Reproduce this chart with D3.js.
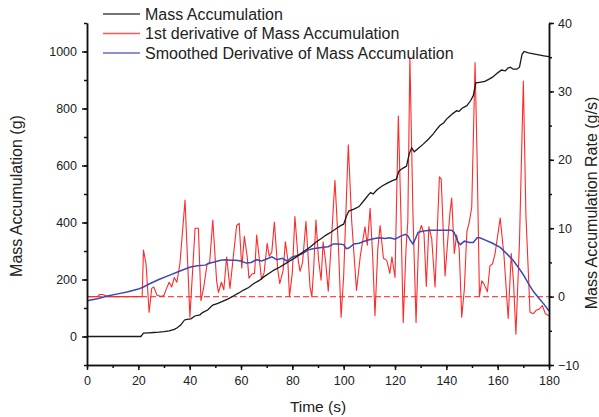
<!DOCTYPE html>
<html>
<head>
<meta charset="utf-8">
<script src="https://cdn.jsdelivr.net/npm/d3@7"></script>
<style>
  body { margin: 0; background: #fff; }
  svg text { font-family: "Liberation Sans", Arial, sans-serif; fill: #222; }
</style>
</head>
<body>
<div class="chart-container"></div>
<script>
//! CONSTS
const WIDTH = 599
const HEIGHT = 417
const MARGIN = { top: 23, right: 50, bottom: 52, left: 87 }

//! DATA
// mass accumulation, g  [time s, mass g]
const massTime = [0, 21, 22, 24, 26, 28, 30, 32, 34, 35, 36.5, 38, 39, 40.5, 42, 44, 45, 47, 49, 51, 53, 55, 57, 59,
  61, 63, 65, 67, 69, 71, 73, 75, 77, 79, 81, 83, 85, 87, 89, 91, 93, 95, 97, 99, 100, 101, 102, 104, 106, 108, 109.5,
  110.5, 111.5, 113, 115, 117, 119, 120.5, 121.5, 123, 124.5, 125.5, 126.5, 127.5, 129, 131, 133, 135, 136, 137.5, 139,
  140, 141, 142.5, 144, 145, 146, 148, 149.5, 150.5, 151.5, 153, 155, 156.5, 158, 160, 161.5, 163, 164, 165, 166, 167.5,
  168.5, 169.5, 170.3, 172, 175, 178, 180]
const massValue = [0, 0, 12, 13, 14, 15, 17, 20, 25, 30, 40, 58, 60, 62, 72, 76, 84, 93, 110, 116, 124, 132, 142, 152,
  163, 172, 186, 196, 210, 222, 234, 243, 254, 265, 276, 289, 302, 314, 330, 342, 355, 366, 378, 390, 394, 420, 440, 447,
  456, 478, 495, 505, 500, 515, 528, 538, 547, 552, 580, 590, 598, 640, 662, 648, 660, 675, 692, 712, 724, 740, 750,
  762, 770, 782, 792, 790, 800, 810, 828, 845, 890, 892, 895, 902, 910, 925, 935, 932, 942, 945, 938, 938,
  945, 990, 1000, 995, 990, 985, 982]

// 1st derivative, g/s  [time s, rate]
const rateTime = [0, 4, 5, 6, 8, 21.5, 22, 23, 24.2, 25.2, 26, 27.3, 29, 30, 31, 32, 33, 34, 35, 36.2, 38.2, 40.1, 42.1,
  43.4, 44.4, 45.5, 46.8, 47.8, 49, 50.5, 51.2, 52.4, 53.3, 54.4, 55.7, 58.3, 59.3, 60.3, 61.3, 62.4, 63.1, 64.3, 65.3,
  66.1, 67.4, 68, 69, 70.2, 71, 72, 73, 74.3, 75.1, 76.4, 77.3, 78.2, 78.9, 80, 81, 82.3, 83, 84, 85.3, 86.9, 87.6, 88.3,
  89.2, 90.2, 91.2, 92, 93, 94, 95.3, 96.6, 98, 99, 100, 101.8, 103.1, 105, 106.5, 108.3, 109.2, 110.3, 111.3, 112.2,
  113.3, 114.2, 115.5, 116.8, 118, 118.8, 120, 121.3, 122.3, 123.2, 124.3, 125, 125.8, 127, 128.2, 129.3, 130.3, 131.3,
  132.2, 133.2, 134.3, 135.6, 137.3, 138, 139.5, 140.5, 141.4, 142.1, 143.1, 144, 145, 146, 147, 148, 149, 149.9, 151.2,
  152, 152.9, 153.8, 154.6, 156, 157, 158, 159, 161, 162.5, 164.1, 165.3, 166.2, 167.1, 168.5, 170, 171, 172.6, 173.9,
  175, 176.3, 177.4, 178.6, 180]
const rateValue = [0, 0, 0.3, 0.3, 0, 0, 6.8, 4.8, -2.3, 1.2, 1.4, 0.2, 0, 0.2, 1.2, 2.1, 1.4, 2.8, 2.1, 4.8, 14.1, -3.0,
  10, 10, -0.6, 1.4, 4.8, 5.0, 11.2, 2.3, 0.6, 2.1, 1.0, 5.8, 1.2, 10.4, 10.7, 4.2, 8.8, 5.9, 2.7, 3.3, 3.4,
  9.0, 4.6, 2.5, 3.5, 7.8, 5.9, 6.5, 10.9, 4.0, 1.9, 3.8, 8.0, 5.5, 0, 3.5, 11.7, 5.3, 3.7, 5.0, 11.0, 1.4, 0, 4.0,
  11.2, 5.5, 2.4, 8.0, 5.0, 0.8, 8.7, 17.0, 7.0, -3.0, 3.0, 22.2, 11.2, 0.9, 6.0, 10.2, 7.5, 12.9, 6.0, -2.8,
  7.0, 10.4, 5.6, 5.3, 3.4, 5.8, 2.8, 26.4, 12.0, -3.8, 7.0, 11.0, 35.0, 12.0, -3.8, 9.2, 10.4, 9.2,
  1.5, 10.2, 8.5, 1.4, 17.5, 17.2, 3.0, 8.0, 12.2, 14.4, 6.3, 9.0, 7.0, -3.0, 1.0, 9.5, 11.0, 13.1, 34.2,
  20.0, 0, 2.3, 1.9, 0.7, 4.5, 4.8, 6.3, 11.5, 5.8, -3.2, 6.3, 2.0, -5.5, 8.0, 31.5, 12.0, -2.3, -2.5,
  -2.0, -1.8, -1.3, -2.5, -2.8]

// smoothed derivative, g/s  [time s, rate]
const smoothTime = [0, 4, 8, 12, 16, 20, 22, 24, 28, 32, 36, 40, 43, 46, 48, 50, 52, 54, 56, 58, 60, 62, 64, 66, 68,
  70, 72, 74, 76, 78, 80, 82, 84, 86, 88, 90, 92, 94, 96, 98, 100, 101, 102, 104, 106, 108, 110, 112, 114, 116, 118,
  120, 122, 124, 125, 126, 127, 128, 129, 131, 134, 138, 142, 143, 144.5, 145.5, 147, 149, 150.5, 152, 153, 155, 158,
  161, 164, 166, 168, 170, 172, 174, 176, 178, 180]
const smoothValue = [-0.6, -0.3, 0.1, 0.4, 0.7, 1.1, 1.4, 1.8, 2.5, 3.1, 3.7, 4.3, 4.5, 4.6, 4.9, 5.1, 5.3, 5.4, 5.3, 5.3,
  5.2, 4.9, 5.0, 5.4, 5.2, 5.5, 5.8, 5.4, 5.6, 5.2, 5.8, 6.0, 6.3, 6.8, 7.0, 7.1, 7.2, 7.3, 7.7, 7.7, 7.6, 7.0, 7.1,
  7.7, 7.8, 8.1, 8.3, 8.5, 8.6, 8.5, 8.6, 8.4, 8.8, 9.1, 8.9, 8.2, 7.7, 8.5, 9.4, 9.6, 9.7, 9.7, 9.7, 9.4, 8.0, 7.6,
  8.1, 7.9, 7.9, 8.6, 8.6, 8.3, 7.8, 7.2, 6.1, 5.3, 4.3, 3.2, 1.9, 0.7, -0.2, -1.1, -2.1]

const seriesNames = ['Mass Accumulation', '1st derivative of Mass Accumulation', 'Smoothed Derivative of Mass Accumulation']
const xTicks = d3.range(0, 181, 20)
const leftTicks = d3.range(0, 1001, 200)
const rightTicks = d3.range(-10, 41, 10)

//! SVG
const svg = d3.select('.chart-container')
  .append('svg')
  .attr('width', WIDTH)
  .attr('height', HEIGHT)

const x = d3.scaleLinear().domain([0, 180]).range([MARGIN.left, WIDTH - MARGIN.right])
const yMass = d3.scaleLinear().domain([-100, 1100]).range([HEIGHT - MARGIN.bottom, MARGIN.top])
const yRate = d3.scaleLinear().domain([-10, 40]).range([HEIGHT - MARGIN.bottom, MARGIN.top])

const mass = massTime.map((t, i) => [t, massValue[i]])
const rate = rateTime.map((t, i) => [t, rateValue[i]])
const smooth = smoothTime.map((t, i) => [t, smoothValue[i]])

const colors = ['#1a1a1a', '#ff2a2a', '#3a48b8']

// zero line of the rate axis
svg.append('line')
  .attr('x1', x(0)).attr('x2', x(180))
  .attr('y1', yRate(0)).attr('y2', yRate(0))
  .attr('stroke', '#ff4a4a')
  .attr('stroke-width', 1.1)
  .attr('stroke-dasharray', '6,3')

const lineMass = d3.line().x(d => x(d[0])).y(d => yMass(d[1]))
const lineRate = d3.line().x(d => x(d[0])).y(d => yRate(d[1]))

svg.append('path').datum(rate)
  .attr('fill', 'none').attr('stroke', colors[1]).attr('stroke-width', 1.1)
  .attr('stroke-linejoin', 'round')
  .attr('d', lineRate)

svg.append('path').datum(smooth)
  .attr('fill', 'none').attr('stroke', colors[2]).attr('stroke-width', 1.5)
  .attr('d', lineRate)

svg.append('path').datum(mass)
  .attr('fill', 'none').attr('stroke', colors[0]).attr('stroke-width', 1.3)
  .attr('d', lineMass)

//! AXES
function styleAxis(g) {
  g.selectAll('path, line').attr('stroke', '#111').attr('stroke-width', 1.5)
  g.selectAll('text').style('font-size', '12.5px').attr('fill', '#222')
}

const bottom = HEIGHT - MARGIN.bottom
svg.append('g').attr('transform', `translate(0,${bottom})`)
  .call(d3.axisBottom(x).tickValues(d3.range(0, 181, 10)).tickSize(3).tickFormat('').tickSizeOuter(0))
  .call(styleAxis)
svg.append('g').attr('transform', `translate(0,${bottom})`)
  .call(d3.axisBottom(x).tickValues(xTicks).tickSize(5).tickPadding(6).tickFormat(d3.format('d')).tickSizeOuter(0))
  .call(styleAxis)

svg.append('g').attr('transform', `translate(${MARGIN.left},0)`)
  .call(d3.axisLeft(yMass).tickValues(d3.range(-100, 1101, 100)).tickSize(3).tickFormat('').tickSizeOuter(0))
  .call(styleAxis)
svg.append('g').attr('transform', `translate(${MARGIN.left},0)`)
  .call(d3.axisLeft(yMass).tickValues(leftTicks).tickSize(5).tickPadding(5).tickFormat(d3.format('d')).tickSizeOuter(0))
  .call(styleAxis)

const right = WIDTH - MARGIN.right
svg.append('g').attr('transform', `translate(${right},0)`)
  .call(d3.axisRight(yRate).tickValues(d3.range(-10, 41, 5)).tickSize(3).tickFormat('').tickSizeOuter(0))
  .call(styleAxis)
svg.append('g').attr('transform', `translate(${right},0)`)
  .call(d3.axisRight(yRate).tickValues(rightTicks).tickSize(5).tickPadding(4).tickSizeOuter(0))
  .call(styleAxis)

// axis titles
svg.append('text')
  .attr('x', (MARGIN.left + right) / 2).attr('y', 412)
  .attr('text-anchor', 'middle')
  .style('font-size', '15.5px')
  .text('Time (s)')

svg.append('text')
  .attr('transform', `translate(22,${196}) rotate(-90)`)
  .attr('text-anchor', 'middle')
  .style('font-size', '16px')
  .text('Mass Accumulation (g)')

svg.append('text')
  .attr('transform', `translate(597,${203}) rotate(-90)`)
  .attr('text-anchor', 'middle')
  .style('font-size', '16px')
  .text('Mass Accumulation Rate (g/s)')

//! LEGEND
const legend = svg.append('g').attr('class', 'legend')
seriesNames.forEach((name, i) => {
  const ly = 14 + i * 19.5
  legend.append('line')
    .attr('x1', 103).attr('x2', 140)
    .attr('y1', ly).attr('y2', ly)
    .attr('stroke', colors[i]).attr('stroke-opacity', 0.8).attr('stroke-width', 1.4)
  legend.append('text')
    .attr('x', 145).attr('y', ly)
    .attr('dy', '0.36em')
    .style('font-size', '16px')
    .text(name)
})
</script>
</body>
</html>
